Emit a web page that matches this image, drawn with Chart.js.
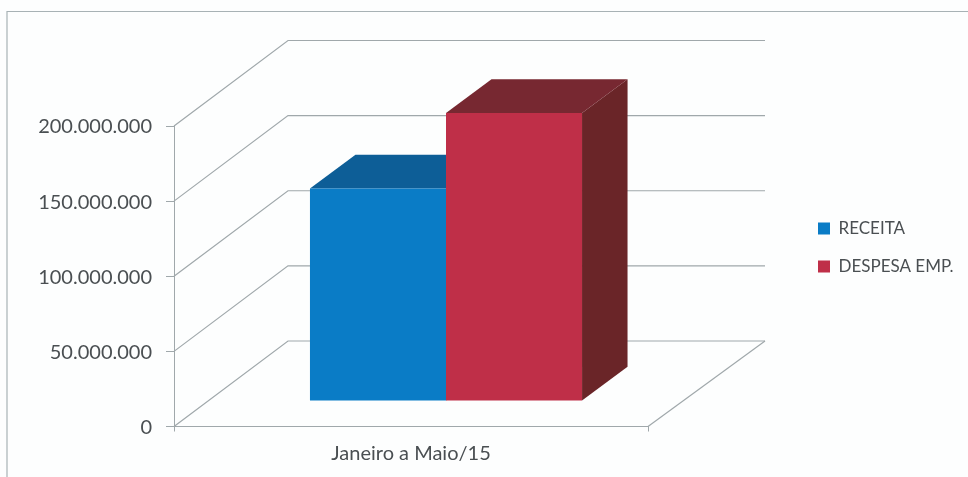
<!DOCTYPE html>
<html>
<head>
<meta charset="utf-8">
<script src="https://cdn.jsdelivr.net/npm/chart.js@4"></script>
<style>
  body { margin: 0; background: #fdfefe; }
  canvas { display: block; }
</style>
</head>
<body>
<canvas id="chart" width="968" height="477"></canvas>
<script>
// Values
const categories = ["Janeiro a Maio/15"];
const receita = [141500000];
const despesa = [191700000];

const lineColor = "#a0a8ab";
const textColor = "#4a4f52";

// 3D look: the wall sits this far behind the axis, bars stand part way in
const wallDepth = { left: 114, right: 117, y: -85.5 };
const barShift = { x: 35, y: -25.5 };
const barDepth = { x: 45.5, y: -33.7 };

function line(ctx, x1, y1, x2, y2, x3, y3) {
  ctx.beginPath();
  ctx.moveTo(x1, y1);
  ctx.lineTo(x2, y2);
  if (x3 !== undefined) ctx.lineTo(x3, y3);
  ctx.stroke();
}

function face(ctx, color, pts) {
  ctx.fillStyle = color;
  ctx.beginPath();
  pts.forEach((p, i) => (i ? ctx.lineTo(p[0], p[1]) : ctx.moveTo(p[0], p[1])));
  ctx.closePath();
  ctx.fill();
}

const box3d = {
  id: "box3d",
  afterLayout(chart) {
    // keep the legend out by itself on the right
    const legend = chart.legend;
    legend.left = 797;
    legend.right = 968;
    legend.top = 199;
    legend.bottom = 477;
  },
  beforeDraw(chart) {
    const ctx = chart.ctx;
    ctx.save();
    ctx.lineWidth = 1.2;
    ctx.strokeStyle = "#a8b2b5";
    line(ctx, 7, 477, 7, 11.5, 968, 11.5);
    ctx.restore();
  },
  beforeDatasetsDraw(chart) {
    const ctx = chart.ctx;
    const area = chart.chartArea;
    const y = chart.scales.y;
    ctx.save();
    ctx.lineWidth = 1.2;
    ctx.strokeStyle = lineColor;
    y.ticks.forEach((t) => {
      const py = y.getPixelForValue(t.value);
      line(ctx, area.left, py, area.left + wallDepth.left, py + wallDepth.y, area.right + wallDepth.right, py + wallDepth.y);
    });
    line(ctx, area.right, area.bottom, area.right + wallDepth.right, area.bottom + wallDepth.y);
    ctx.restore();

    // side and top faces, behind the front faces
    ctx.save();
    ctx.translate(barShift.x, barShift.y);
    chart.data.datasets.forEach((ds, i) => {
      chart.getDatasetMeta(i).data.forEach((bar) => {
        const p = bar.getProps(["x", "y", "base", "width"], true);
        const l = p.x - p.width / 2;
        const r = p.x + p.width / 2;
        face(ctx, ds.sideColor, [[r, p.y], [r + barDepth.x, p.y + barDepth.y], [r + barDepth.x, p.base + barDepth.y], [r, p.base]]);
        face(ctx, ds.topColor, [[l, p.y], [l + barDepth.x, p.y + barDepth.y], [r + barDepth.x, p.y + barDepth.y], [r, p.y]]);
      });
    });
    ctx.restore();

    ctx.save();
    ctx.translate(barShift.x, barShift.y);
  },
  afterDatasetsDraw(chart) {
    chart.ctx.restore();
  },
};

new Chart(document.getElementById("chart"), {
  type: "bar",
  data: {
    labels: categories,
    datasets: [
      { label: "RECEITA", data: receita, backgroundColor: "#0a7cc6", topColor: "#0d5e97", sideColor: "#0a4f80", clip: false },
      { label: "DESPESA EMP.", data: despesa, backgroundColor: "#bf2f48", topColor: "#772831", sideColor: "#6a2528", clip: false },
    ],
  },
  options: {
    responsive: false,
    animation: false,
    categoryPercentage: 0.574,
    barPercentage: 1,
    layout: { padding: { top: 126, right: 320, bottom: 0, left: 0 } },
    plugins: {
      tooltip: { enabled: false },
      legend: {
        position: "chartArea",
        align: "start",
        labels: {
          boxWidth: 12,
          boxHeight: 12,
          padding: 21,
          color: textColor,
          font: { family: "Lato", size: 17 },
        },
      },
    },
    scales: {
      x: {
        afterFit: (s) => { s.height = 50.5; },
        grid: { offset: true, drawOnChartArea: false, tickLength: 5, color: lineColor },
        border: { color: lineColor },
        ticks: { color: textColor, padding: 10, font: { family: "Lato", size: 20 } },
      },
      y: {
        min: 0,
        max: 200000000,
        afterFit: (s) => { s.width = 174; },
        grid: { drawOnChartArea: false, tickLength: 8, color: lineColor },
        border: { color: lineColor },
        ticks: {
          stepSize: 50000000,
          color: textColor,
          padding: 14,
          labelOffset: 1,
          font: { family: "Lato", size: 20 },
          callback: (v) => String(v).replace(/\B(?=(\d{3})+$)/g, "."),
        },
      },
    },
  },
  plugins: [box3d],
});
</script>
</body>
</html>
